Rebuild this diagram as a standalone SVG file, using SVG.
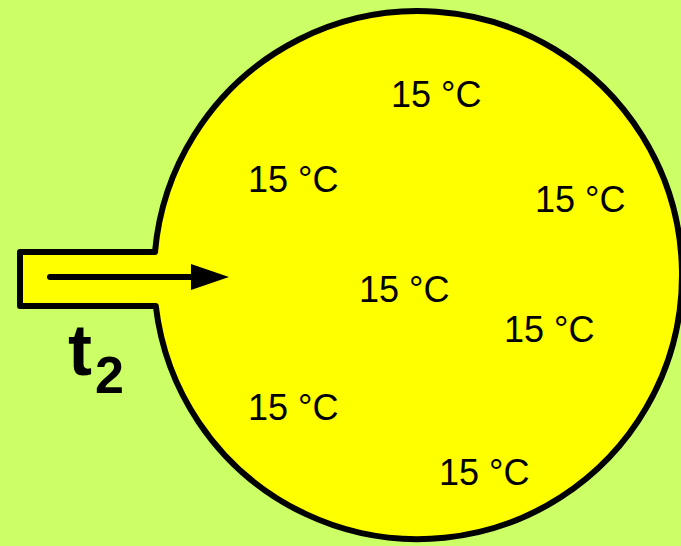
<svg xmlns="http://www.w3.org/2000/svg" width="681" height="546" viewBox="0 0 681 546">
<defs>
<style>
.lbl{font-family:"Liberation Sans",Arial,sans-serif;font-size:36px;fill:#000}
.t{font-family:"Liberation Sans",Arial,sans-serif;font-weight:bold;fill:#000}
</style>
</defs>
<rect width="681" height="546" fill="#CCFF66"/>
<g id="vessel">
<path d="M155,252 H20 V306 H155.8 A264,264 0 1 0 155,252 Z" fill="#FFFF00" stroke="#000" stroke-width="6" stroke-linejoin="round"/>
</g>
<g id="connectors">
<line x1="50" y1="277" x2="192" y2="277" stroke="#000" stroke-width="6" stroke-linecap="round"/>
<path d="M191,264 L229,277 L191,290 Z" fill="#000"/>
</g>
<g id="label-t2">
<text class="t" x="68" y="375" font-size="72">t</text>
<text class="t" x="95" y="393" font-size="52">2</text>
</g>
<g id="temps">
<text class="lbl" x="391" y="107">15 °C</text>
<text class="lbl" x="248" y="192">15 °C</text>
<text class="lbl" x="359" y="302">15 °C</text>
<text class="lbl" x="535" y="212">15 °C</text>
<text class="lbl" x="504" y="342">15 °C</text>
<text class="lbl" x="248" y="420">15 °C</text>
<text class="lbl" x="439" y="485">15 °C</text>
</g>
</svg>
